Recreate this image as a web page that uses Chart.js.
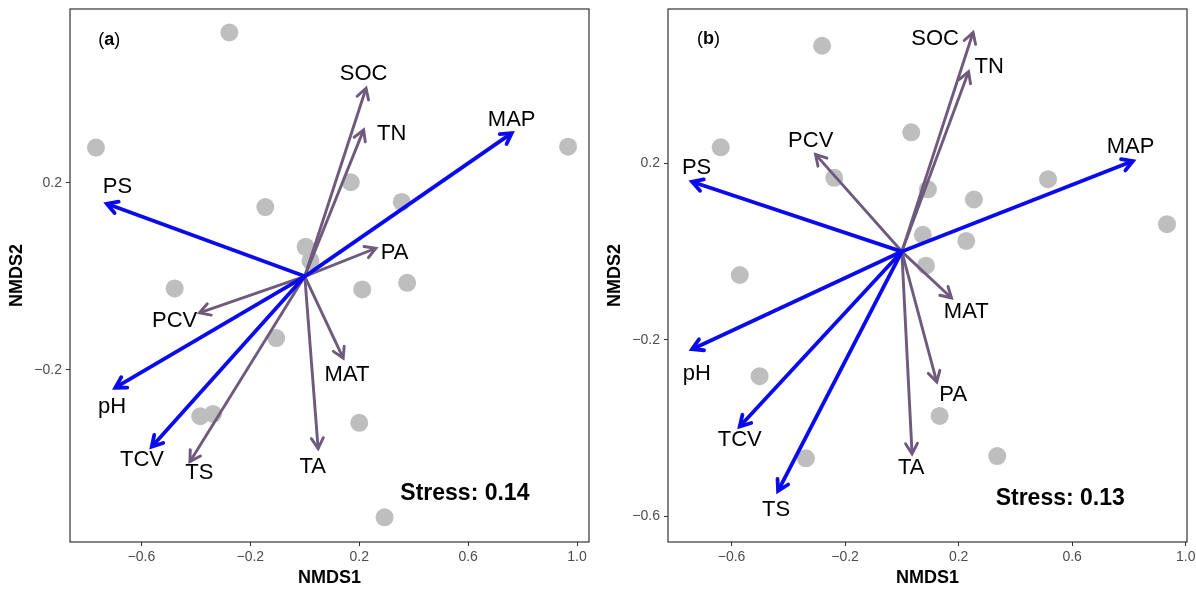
<!DOCTYPE html>
<html><head><meta charset="utf-8">
<script src="https://cdn.jsdelivr.net/npm/chart.js@4/dist/chart.umd.min.js"></script>
<style>
html,body{margin:0;padding:0;background:#fff;}
#wrap{position:relative;width:1196px;height:598px;overflow:hidden;}
.pane{position:absolute;top:0;width:598px;height:598px;}
</style></head><body>
<div id="wrap">
<div class="pane" style="left:0"><canvas id="ca" width="598" height="598"></canvas></div>
<div class="pane" style="left:598px"><canvas id="cb" width="598" height="598"></canvas></div>
</div>
<script>
// ---------- data ----------
const xTickValues = [-0.6, -0.2, 0.2, 0.6, 1.0];
const yTickValuesA = [0.2, -0.2];
const yTickValuesB = [0.2, -0.2, -0.6];

const envNames = ['SOC','TN','MAP','PS','PA','PCV','pH','TCV','TS','MAT','TA'];

// panel (a)
const sitesAX = [-0.277,-0.767,0.967,0.169,-0.145,0.356,0.003,0.021,-0.478,0.211,0.376,-0.105,-0.384,-0.337,0.200,0.293];
const sitesAY = [0.521,0.275,0.277,0.201,0.148,0.159,0.063,0.033,-0.026,-0.028,-0.014,-0.132,-0.299,-0.294,-0.313,-0.515];
const envAX = [0.225,0.216,0.760,-0.727,0.261,-0.387,-0.696,-0.562,-0.422,0.141,0.049];
const envAY = [0.402,0.313,0.306,0.155,0.060,-0.078,-0.238,-0.364,-0.396,-0.175,-0.368];
const envSigA = [false,false,true,true,false,false,true,true,false,false,false];
const labelAX = [0.216,0.319,0.760,-0.688,0.330,-0.478,-0.708,-0.598,-0.387,0.155,0.029];
const labelAY = [0.432,0.304,0.335,0.192,0.051,-0.096,-0.279,-0.393,-0.420,-0.211,-0.408];
const stressA = 0.14;

// panel (b)
const sitesBX = [-0.281,-0.638,0.033,-0.238,0.092,0.254,0.515,0.934,0.074,0.227,0.085,-0.571,-0.501,0.133,-0.338,0.336];
const sitesBY = [0.466,0.236,0.270,0.167,0.141,0.118,0.164,0.062,0.038,0.024,-0.032,-0.053,-0.282,-0.372,-0.468,-0.463];
const envBX = [0.251,0.235,0.814,-0.739,0.123,-0.304,-0.739,-0.571,-0.436,0.175,0.036];
const envBY = [0.496,0.407,0.205,0.158,-0.295,0.220,-0.221,-0.396,-0.542,-0.105,-0.458];
const envSigB = [false,false,true,true,false,false,true,true,true,false,false];
const labelBX = [0.117,0.308,0.806,-0.723,0.181,-0.321,-0.722,-0.571,-0.443,0.227,0.033];
const labelBY = [0.481,0.419,0.238,0.189,-0.325,0.251,-0.276,-0.427,-0.585,-0.136,-0.489];
const stressB = 0.13;

// ---------- styling ----------
const BLUE = '#0A0AEE';
const PURPLE = '#6E5A7D';
const GREY = '#BEBEBE';
const FONT = '"Liberation Sans", Arial, Helvetica, sans-serif';

function fmt(v){ return v.toFixed(1).replace('-', '\u2212'); }

const arrowPlugin = {
  id: 'arrowheads',
  afterDatasetDraw(chart, args) {
    const ds = chart.data.datasets[args.index];
    if (!ds.isArrow) return;
    const pts = args.meta.data;
    const p0 = pts[0], p1 = pts[1];
    const ang = Math.atan2(p1.y - p0.y, p1.x - p0.x);
    const len = 12, spread = Math.PI / 6;
    const ctx = chart.ctx;
    ctx.save();
    ctx.strokeStyle = ds.borderColor;
    ctx.lineWidth = ds.borderWidth;
    ctx.lineCap = 'round';
    ctx.lineJoin = 'miter';
    ctx.beginPath();
    ctx.moveTo(p1.x - len * Math.cos(ang - spread), p1.y - len * Math.sin(ang - spread));
    ctx.lineTo(p1.x, p1.y);
    ctx.lineTo(p1.x - len * Math.cos(ang + spread), p1.y - len * Math.sin(ang + spread));
    ctx.stroke();
    ctx.restore();
  }
};

const framePlugin = {
  id: 'frame',
  beforeDatasetsDraw(chart) {
    const a = chart.chartArea, ctx = chart.ctx;
    ctx.save();
    ctx.strokeStyle = '#333333';
    ctx.lineWidth = 1.2;
    ctx.strokeRect(a.left, a.top, a.right - a.left, a.bottom - a.top);
    ctx.restore();
  }
};

const textPlugin = {
  id: 'envText',
  afterDatasetsDraw(chart, args, opts) {
    const ctx = chart.ctx, xs = chart.scales.x, ys = chart.scales.y;
    ctx.save();
    ctx.fillStyle = '#000';
    ctx.textAlign = 'center';
    ctx.textBaseline = 'middle';
    ctx.font = '22px ' + FONT;
    opts.names.forEach((n, i) => {
      ctx.fillText(n, xs.getPixelForValue(opts.lx[i]), ys.getPixelForValue(opts.ly[i]));
    });
    // stress
    ctx.font = 'bold 23px ' + FONT;
    ctx.fillText('Stress: ' + opts.stress.toFixed(2), xs.getPixelForValue(opts.stressPos[0]), ys.getPixelForValue(opts.stressPos[1]));
    // panel tag
    const tx = xs.getPixelForValue(opts.tagPos[0]), ty = ys.getPixelForValue(opts.tagPos[1]);
    ctx.textAlign = 'left';
    ctx.font = '18px ' + FONT;
    const wOpen = ctx.measureText('(').width;
    ctx.font = 'bold 18px ' + FONT;
    const wA = ctx.measureText(opts.tag).width;
    ctx.font = '18px ' + FONT;
    const wClose = ctx.measureText(')').width;
    let x0 = tx - (wOpen + wA + wClose) / 2;
    ctx.fillText('(', x0, ty);
    ctx.font = 'bold 18px ' + FONT;
    ctx.fillText(opts.tag, x0 + wOpen, ty);
    ctx.font = '18px ' + FONT;
    ctx.fillText(')', x0 + wOpen + wA, ty);
    ctx.restore();
  }
};

function makeChart(id, sx, sy, ex, ey, sig, lx, ly, yTicks, ranges, stress, stressPos, tag, tagPos, padRight) {
  const datasets = [];
  ex.forEach((v, i) => {
    datasets.push({
      type: 'line',
      isArrow: true,
      label: envNames[i],
      data: [{x: 0, y: 0}, {x: ex[i], y: ey[i]}],
      borderColor: sig[i] ? BLUE : PURPLE,
      borderWidth: sig[i] ? 3.8 : 2.9,
      pointRadius: 0,
      pointHoverRadius: 0,
      fill: false,
      tension: 0,
      order: sig[i] ? 1 : 2
    });
  });
  datasets.push({
    type: 'scatter',
    label: 'sites',
    data: sx.map((v, i) => ({x: v, y: sy[i]})),
    backgroundColor: GREY,
    borderWidth: 0,
    pointRadius: 9,
    pointHoverRadius: 9,
    order: 3
  });
  return new Chart(document.getElementById(id), {
    type: 'scatter',
    data: { datasets },
    plugins: [framePlugin, arrowPlugin, textPlugin],
    options: {
      responsive: false,
      animation: false,
      devicePixelRatio: 1,
      layout: { padding: { top: 9, right: padRight, left: 0, bottom: 0 } },
      plugins: {
        legend: { display: false },
        tooltip: { enabled: false },
        envText: { names: envNames, lx, ly, stress, stressPos, tag, tagPos }
      },
      scales: {
        x: {
          type: 'linear',
          min: ranges[0], max: ranges[1],
          afterBuildTicks: s => { s.ticks = xTickValues.map(v => ({value: v})); },
          afterFit: s => { s.height = 56; s.paddingLeft = 0; s.paddingRight = 0; },
          ticks: { callback: v => fmt(v), color: '#4D4D4D', font: { family: FONT, size: 14 }, padding: 3, maxRotation: 0, autoSkip: false },
          grid: { display: true, drawOnChartArea: false, drawTicks: true, tickLength: 4, color: '#333333', lineWidth: 1 },
          border: { display: false },
          title: { display: true, text: 'NMDS1', color: '#000', font: { family: FONT, size: 18, weight: 'bold' }, padding: { top: 0, bottom: 9 } }
        },
        y: {
          type: 'linear',
          min: ranges[2], max: ranges[3],
          afterBuildTicks: s => { s.ticks = yTicks.map(v => ({value: v})); },
          afterFit: s => { s.width = 70; s.paddingTop = 0; s.paddingBottom = 0; },
          ticks: { callback: v => fmt(v), color: '#4D4D4D', font: { family: FONT, size: 14 }, padding: 4, autoSkip: false },
          grid: { display: true, drawOnChartArea: false, drawTicks: true, tickLength: 4, color: '#333333', lineWidth: 1 },
          border: { display: false },
          title: { display: true, text: 'NMDS2', color: '#000', font: { family: FONT, size: 18, weight: 'bold' }, padding: { top: 6, bottom: 0 } }
        }
      }
    }
  });
}

makeChart('ca', sitesAX, sitesAY, envAX, envAY, envSigA, labelAX, labelAY, yTickValuesA,
  [-0.8624, 1.0439, -0.5677, 0.5712], stressA, [0.588, -0.465], 'a', [-0.718, 0.505], 7);
makeChart('cb', sitesBX, sitesBY, envBX, envBY, envSigB, labelBX, labelBY, yTickValuesB,
  [-0.8238, 1.0046, -0.6575, 0.5492], stressB, [0.558, -0.560], 'b', [-0.681, 0.481], 6);
</script>
</body></html>
